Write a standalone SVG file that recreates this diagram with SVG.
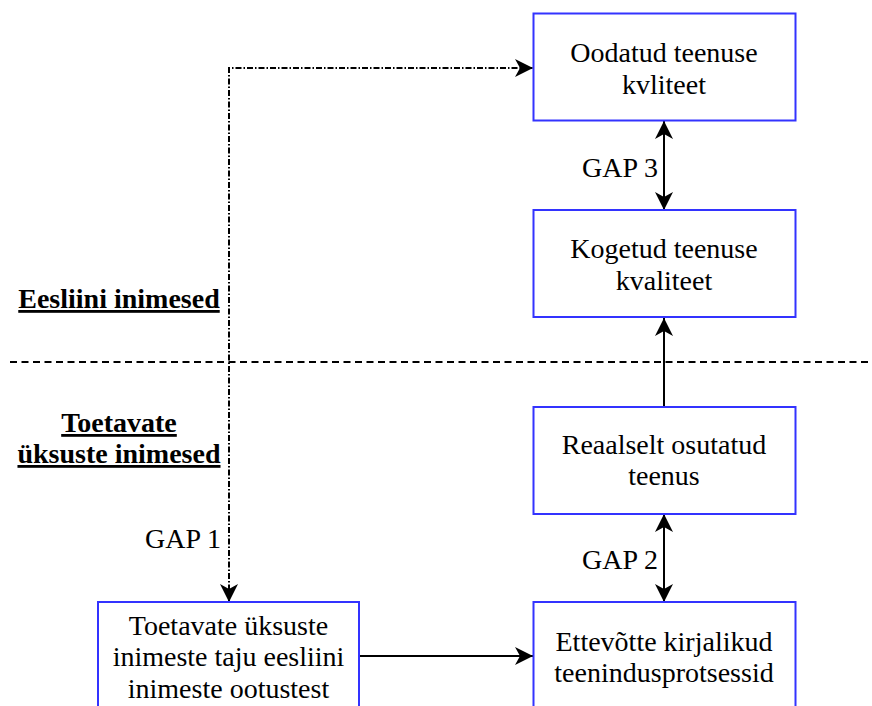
<svg xmlns="http://www.w3.org/2000/svg" width="872" height="706" viewBox="0 0 872 706">
  <style>
    .box { fill: #ffffff; stroke: #3333ff; stroke-width: 2; }
    .lbl { font-family: "Liberation Serif", "Times New Roman", serif; font-size: 28px; fill: #000000; text-anchor: middle; }
    .gap { font-family: "Liberation Serif", "Times New Roman", serif; font-size: 28px; fill: #000000; text-anchor: end; }
    .zone { font-family: "Liberation Serif", "Times New Roman", serif; font-size: 28px; font-weight: bold; fill: #000000; text-anchor: middle; text-decoration: underline; }
    .edge { fill: none; stroke: #000000; stroke-width: 2; }
    .dashdot { stroke-dasharray: 6 2 1.5 2; }
    .divider { fill: none; stroke: #000000; stroke-width: 2; stroke-dasharray: 7 4.5; }
  </style>
  <defs>
    <marker id="arrow" viewBox="0 0 18 18" refX="18" refY="9" markerWidth="18" markerHeight="18" markerUnits="userSpaceOnUse" orient="auto-start-reverse">
      <path d="M0,0 L18,9 L0,18 L5,9 Z" fill="#000000"/>
    </marker>
  </defs>

  <rect width="872" height="706" fill="#ffffff"/>

  <!-- zone divider -->
  <line class="divider" x1="10" y1="362" x2="872" y2="362"/>

  <!-- zone labels -->
  <g id="zone-front">
    <text class="zone" x="119" y="308">Eesliini inimesed</text>
  </g>
  <g id="zone-support">
    <text class="zone" x="119" y="432">Toetavate</text>
    <text class="zone" x="119" y="463">üksuste inimesed</text>
  </g>

  <!-- connectors -->
  <g id="connectors">
    <path class="edge dashdot" d="M229,602 L229,68 L533,68" marker-start="url(#arrow)" marker-end="url(#arrow)"/>
    <line class="edge" x1="664" y1="121" x2="664" y2="210" marker-start="url(#arrow)" marker-end="url(#arrow)"/>
    <line class="edge" x1="664" y1="406" x2="664" y2="318" marker-end="url(#arrow)"/>
    <line class="edge" x1="664" y1="514" x2="664" y2="602" marker-start="url(#arrow)" marker-end="url(#arrow)"/>
    <line class="edge" x1="359" y1="656" x2="533" y2="656" marker-end="url(#arrow)"/>
    <text class="gap" x="221" y="548">GAP 1</text>
    <text class="gap" x="658" y="177">GAP 3</text>
    <text class="gap" x="658" y="569">GAP 2</text>
  </g>

  <!-- nodes -->
  <g id="expected-quality">
    <rect class="box" x="533.5" y="13.5" width="262" height="107"/>
    <text class="lbl" x="664" y="62">Oodatud teenuse</text>
    <text class="lbl" x="664" y="94">kvliteet</text>
  </g>
  <g id="perceived-quality">
    <rect class="box" x="533.5" y="210" width="262" height="107"/>
    <text class="lbl" x="664" y="258">Kogetud teenuse</text>
    <text class="lbl" x="664" y="290">kvaliteet</text>
  </g>
  <g id="delivered-service">
    <rect class="box" x="533.5" y="407" width="262" height="107"/>
    <text class="lbl" x="664" y="454">Reaalselt osutatud</text>
    <text class="lbl" x="664" y="485">teenus</text>
  </g>
  <g id="service-processes">
    <rect class="box" x="533.5" y="602" width="262" height="120"/>
    <text class="lbl" x="664" y="651">Ettevõtte kirjalikud</text>
    <text class="lbl" x="664" y="682">teenindusprotsessid</text>
  </g>
  <g id="support-perception">
    <rect class="box" x="98" y="602" width="261" height="120"/>
    <text class="lbl" x="228.5" y="635">Toetavate üksuste</text>
    <text class="lbl" x="228.5" y="666">inimeste taju eesliini</text>
    <text class="lbl" x="228.5" y="698">inimeste ootustest</text>
  </g>
</svg>
